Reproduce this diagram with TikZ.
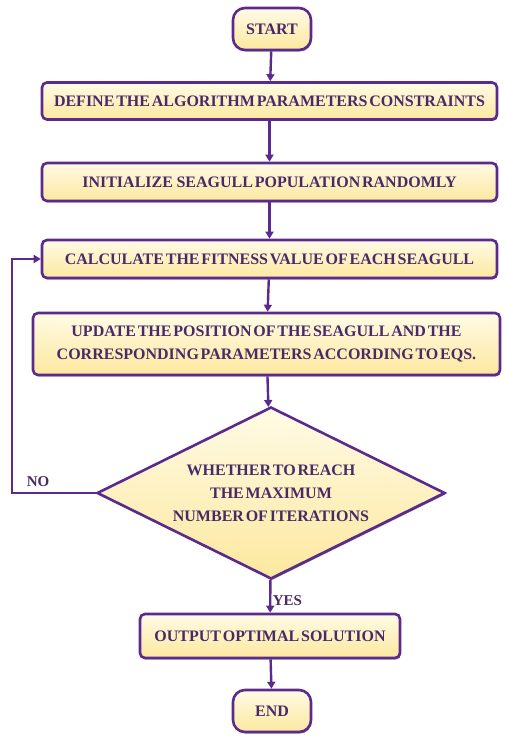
\documentclass[tikz,border=0pt]{standalone}
\usepackage{fontspec}
\setmainfont{Liberation Serif}[WordSpace={0.45,0.2,0.2}]
\usetikzlibrary{shapes.geometric,arrows.meta,shadows}
\definecolor{bord}{HTML}{5B2A8C}
\definecolor{txt}{HTML}{4A2A66}
\definecolor{fillA}{HTML}{FFFBE6}
\definecolor{fillB}{HTML}{FCE89E}
\tikzset{
  every node/.style={font=\bfseries\fontsize{16}{23}\selectfont, text=txt},
  boxbase/.style={draw=bord, line width=2.6pt, top color=fillA, bottom color=fillB, align=center,
     drop shadow={shadow xshift=0.8pt, shadow yshift=-1.5pt, fill=bord!80!black, opacity=0.7}},
  procbox/.style={boxbase, rectangle, rounded corners=5pt, inner sep=0pt},
  termbox/.style={boxbase, rectangle, rounded corners=12pt, minimum width=78pt, minimum height=42pt},
  decbox/.style={boxbase, diamond, inner sep=0pt, minimum width=348pt, minimum height=172pt, aspect=2},
  conn/.style={draw=bord, line width=2.4pt, -{Triangle[length=7pt,width=8pt]}},
  lbl/.style={font=\bfseries\fontsize{15}{17}\selectfont, text=txt}
}
\begin{document}
\begin{tikzpicture}[x=1pt,y=1pt]
\useasboundingbox (0,0) rectangle (504,735);
\node[termbox] (start) at (272,706) {START};
\node[procbox, minimum width=455pt, minimum height=37pt] (b1) at (269.5,634) {DEFINE THE ALGORITHM PARAMETERS CONSTRAINTS};
\node[procbox, minimum width=455pt, minimum height=38pt] (b2) at (269.5,553) {INITIALIZE\ \ SEAGULL POPULATION RANDOMLY};
\node[procbox, minimum width=455pt, minimum height=38pt] (b3) at (269.5,476) {CALCULATE THE FITNESS VALUE OF EACH SEAGULL};
\node[procbox, minimum width=467pt, minimum height=62pt] (b4) at (266.5,391) {UPDATE THE POSITION OF THE SEAGULL AND THE\\CORRESPONDING PARAMETERS ACCORDING TO EQS.};
\node[decbox] (dec) at (271,242) {WHETHER TO REACH\\THE MAXIMUM\\NUMBER OF ITERATIONS};
\node[procbox, minimum width=260pt, minimum height=44pt] (b5) at (270,99) {OUTPUT OPTIMAL SOLUTION};
\node[termbox] (end) at (272,24) {END};
\coordinate (c1) at (12,242);
\coordinate (c2) at (12,476);
\draw[conn] (start) -- (b1);
\draw[conn] (b1) -- (b2);
\draw[conn] (b2) -- (b3);
\draw[conn] (b3) -- (b4);
\draw[conn] (b4) -- (dec);
\draw[conn] (dec) -- (b5) node[lbl, pos=0.62, right=-2pt] {YES};
\draw[conn] (b5) -- (end);
\draw[conn] (dec.west) -- (c1) -- (c2) -- (b3.west);
\node[lbl] (no) at (38,253) {NO};
\end{tikzpicture}
\end{document}
